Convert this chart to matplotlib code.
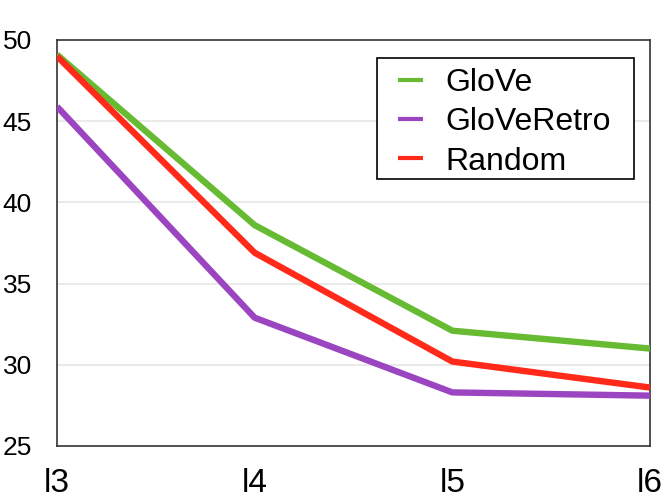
import matplotlib
matplotlib.use("Agg")
import matplotlib.pyplot as plt
from matplotlib.patches import Rectangle

categories = ["l3", "l4", "l5", "l6"]
glove = [49.1, 38.6, 32.1, 31.0]
glove_retro = [45.9, 32.9, 28.3, 28.1]
random_init = [49.0, 36.9, 30.2, 28.6]
y_ticks = [25, 30, 35, 40, 45, 50]

plt.rcParams['font.family'] = ['Liberation Sans', 'DejaVu Sans']

fig = plt.figure(figsize=(6.64, 5.0), dpi=100)
ax = fig.add_axes([57/664, 54/500, 593/664, 406/500])

x = list(range(len(categories)))
ax.plot(x, glove, color="#66BB33", lw=4.6, label="GloVe", solid_capstyle='butt', zorder=3)
ax.plot(x, glove_retro, color="#9B45C0", lw=4.6, label="GloVeRetro", solid_capstyle='butt', zorder=3)
ax.plot(x, random_init, color="#FF2A1A", lw=4.6, label="Random", solid_capstyle='butt', zorder=3)

ax.set_xlim(0, 3)
ax.set_ylim(25, 50)
ax.set_xticks(x)
ax.set_xticklabels(categories, fontsize=24)
ax.set_yticks(y_ticks)
ax.set_yticklabels([str(v) for v in y_ticks], fontsize=19)
ax.tick_params(axis='both', length=0)
ax.tick_params(axis='x', pad=16)
ax.tick_params(axis='y', pad=18)

for v in y_ticks[1:-1]:
    ax.axhline(v, color="#e6e6e6", lw=1.2, zorder=1)

for s in ax.spines.values():
    s.set_color("#333333")
    s.set_linewidth(1.2)

leg = ax.legend(loc='upper left', bbox_to_anchor=(0.575, 0.931), fontsize=23,
                frameon=False, handlelength=0.78, handletextpad=0.69,
                labelspacing=0.29, borderpad=0, borderaxespad=0)
for h in leg.get_lines():
    h.set_linewidth(3)
leg.set_zorder(5)

box = Rectangle((0.540, 0.658), 0.433, 0.298, transform=ax.transAxes,
                fill=True, facecolor='white', edgecolor='black', lw=1.2, zorder=4)
ax.add_patch(box)

fig.savefig("out.png", dpi=100)
